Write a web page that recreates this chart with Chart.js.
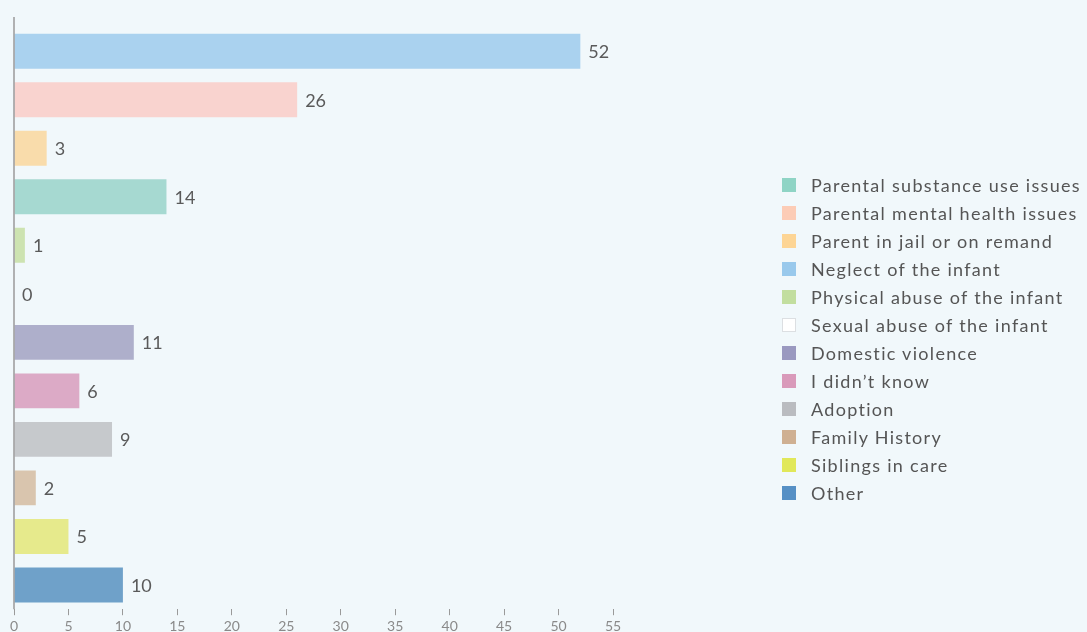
<!DOCTYPE html>
<html>
<head>
<meta charset="utf-8">
<script src="https://cdn.jsdelivr.net/npm/chart.js@4"></script>
<style>
  html, body { margin: 0; padding: 0; background: #f1f8fb; overflow: hidden; }
  #wrap { position: relative; width: 1087px; height: 632px; overflow: hidden; }
  #box { position: absolute; left: 0; top: 0; width: 1087px; height: 638px; }
  #legend { position: absolute; left: 782px; top: 171px; margin: 0; padding: 0; list-style: none;
            font-family: Lato, 'Open Sans', sans-serif; font-size: 18px; letter-spacing: 1.3px; color: #555; }
  #legend li { height: 28px; display: flex; align-items: center; white-space: nowrap; }
  #legend .sw { width: 14px; height: 14px; margin-right: 15px; box-sizing: border-box; }
</style>
</head>
<body>
<div id="wrap">
  <div id="box"><canvas id="chart"></canvas></div>
  <ul id="legend"></ul>
</div>
<script>
// ── DATA ─────────────────────────────────────────────────────────────────────
const categories = [
  "Neglect of the infant", "Parental mental health issues", "Parent in jail or on remand",
  "Parental substance use issues", "Physical abuse of the infant", "Sexual abuse of the infant",
  "Domestic violence", "I didn’t know", "Adoption", "Family History", "Siblings in care", "Other"
];
const counts = [52, 26, 3, 14, 1, 0, 11, 6, 9, 2, 5, 10];
const legendOrder = [
  "Parental substance use issues", "Parental mental health issues", "Parent in jail or on remand",
  "Neglect of the infant", "Physical abuse of the infant", "Sexual abuse of the infant",
  "Domestic violence", "I didn’t know", "Adoption", "Family History", "Siblings in care", "Other"
];
const xMin = 0, xMax = 55, xStep = 5;

// ── COLOURS ──────────────────────────────────────────────────────────────────
const barColors = {
  "Neglect of the infant": "#aad2ef",
  "Parental mental health issues": "#f9d3cf",
  "Parent in jail or on remand": "#f9dcab",
  "Parental substance use issues": "#a6d9d1",
  "Physical abuse of the infant": "#cde3b1",
  "Sexual abuse of the infant": "#ffffff",
  "Domestic violence": "#aeafcb",
  "I didn’t know": "#dcaac6",
  "Adoption": "#c6c9cc",
  "Family History": "#d9c5ae",
  "Siblings in care": "#e6ea8c",
  "Other": "#6fa1c9"
};
const legendColors = {
  "Parental substance use issues": "#8fd4c5",
  "Parental mental health issues": "#fcccb6",
  "Parent in jail or on remand": "#fdd595",
  "Neglect of the infant": "#99c9ec",
  "Physical abuse of the infant": "#c2de9f",
  "Sexual abuse of the infant": "#ffffff",
  "Domestic violence": "#9a99c0",
  "I didn’t know": "#d99aba",
  "Adoption": "#babcc0",
  "Family History": "#cfb092",
  "Siblings in care": "#e1e85a",
  "Other": "#5690c5"
};

// ── PLUGINS ──────────────────────────────────────────────────────────────────
const valueLabels = {
  id: "valueLabels",
  afterDatasetsDraw(chart) {
    const ctx = chart.ctx;
    const meta = chart.getDatasetMeta(0);
    ctx.save();
    ctx.fillStyle = "#5a5a5a";
    ctx.font = "18px Lato, 'Open Sans', sans-serif";
    ctx.textAlign = "left";
    ctx.textBaseline = "middle";
    meta.data.forEach((bar, i) => {
      ctx.fillText(String(counts[i]), bar.x + 8, bar.y + 1);
    });
    ctx.restore();
  }
};

const yAxisLine = {
  id: "yAxisLine",
  afterDraw(chart) {
    const { ctx, chartArea } = chart;
    ctx.save();
    ctx.strokeStyle = "#9a9a9a";
    ctx.lineWidth = 1.5;
    ctx.beginPath();
    ctx.moveTo(chartArea.left, chartArea.top - 10);
    ctx.lineTo(chartArea.left, chartArea.bottom);
    ctx.stroke();
    ctx.restore();
  }
};

// ── CHART ────────────────────────────────────────────────────────────────────
const chart = new Chart(document.getElementById("chart"), {
  type: "bar",
  data: {
    labels: categories,
    datasets: [{
      data: counts,
      backgroundColor: categories.map(c => barColors[c]),
      borderWidth: 0,
      barPercentage: 0.9,
      categoryPercentage: 0.8
    }]
  },
  options: {
    indexAxis: "y",
    responsive: true,
    maintainAspectRatio: false,
    animation: false,
    layout: { padding: { left: 14, right: 474, top: 27, bottom: 0 } },
    plugins: { legend: { display: false }, tooltip: { enabled: false } },
    scales: {
      x: {
        min: xMin, max: xMax,
        border: { display: false },
        grid: { drawOnChartArea: false, drawTicks: true, tickLength: 6, tickColor: "#9a9a9a", lineWidth: 1 },
        ticks: { stepSize: xStep, padding: 3, color: "#8a8a8a", font: { family: "Lato, 'Open Sans', sans-serif", size: 14 } }
      },
      y: {
        border: { display: false },
        grid: { display: false, drawTicks: false },
        ticks: { display: false }
      }
    }
  },
  plugins: [valueLabels, yAxisLine]
});

// ── LEGEND ───────────────────────────────────────────────────────────────────
const legendEl = document.getElementById("legend");
legendOrder.forEach(name => {
  const li = document.createElement("li");
  const sw = document.createElement("span");
  sw.className = "sw";
  sw.style.background = legendColors[name];
  if (name === "Sexual abuse of the infant") sw.style.border = "1px solid #dcdfe2";
  const tx = document.createElement("span");
  tx.textContent = name;
  li.appendChild(sw);
  li.appendChild(tx);
  legendEl.appendChild(li);
});
</script>
</body>
</html>
